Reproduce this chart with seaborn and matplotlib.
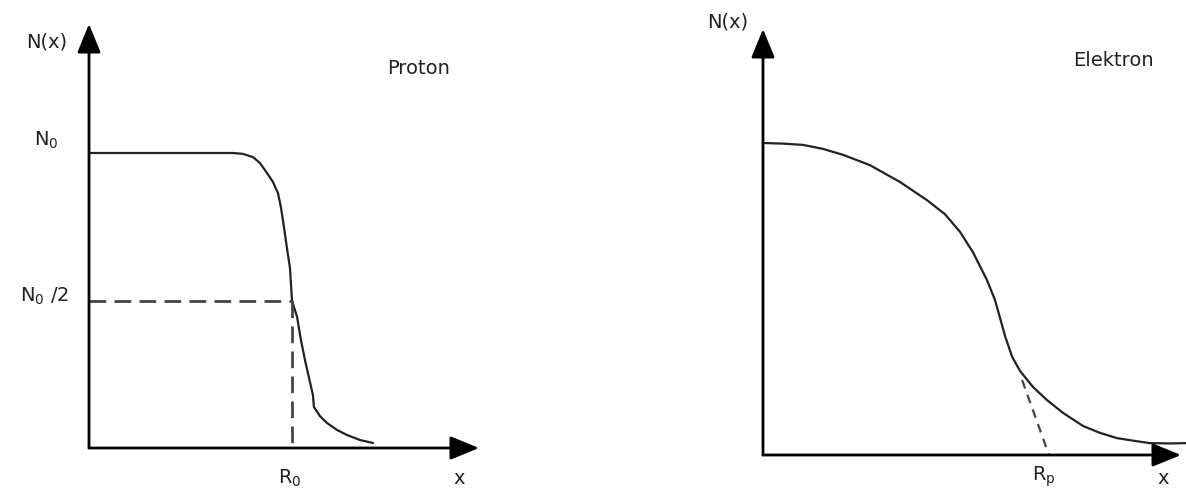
import numpy as np
import pandas as pd
import matplotlib
matplotlib.use("Agg")
import matplotlib.pyplot as plt
import seaborn as sns

# Proton: flat density N0 up to the edge, sharp fall-off around R0 (units: R0 = 1, N0 = 1)
proton_x = [0.0, 0.709, 0.759, 0.808, 0.842, 0.877, 0.906, 0.931, 0.946, 0.961, 0.975, 0.990, 1.0,
            1.025, 1.044, 1.064, 1.084, 1.103, 1.108, 1.138, 1.172, 1.222, 1.271, 1.335, 1.399]
proton_n = [1.0, 1.0, 0.997, 0.986, 0.966, 0.932, 0.902, 0.864, 0.814, 0.746, 0.678, 0.610, 0.5,
            0.444, 0.366, 0.298, 0.237, 0.180, 0.139, 0.108, 0.085, 0.061, 0.044, 0.027, 0.017]

# Electron: smooth bell-like decay with a long tail (units: Rp = 1, N0 = 1)
electron_x = [0.0, 0.070, 0.140, 0.210, 0.280, 0.374, 0.479, 0.573, 0.636, 0.689, 0.734, 0.783, 0.811,
              0.829, 0.846, 0.871, 0.899, 0.944, 0.993, 1.049, 1.119, 1.178, 1.238, 1.301, 1.353,
              1.423, 1.479]
electron_n = [1.0, 0.998, 0.994, 0.981, 0.962, 0.929, 0.875, 0.817, 0.772, 0.715, 0.650, 0.561, 0.497,
              0.439, 0.382, 0.315, 0.269, 0.218, 0.176, 0.135, 0.093, 0.071, 0.054, 0.045, 0.038,
              0.037, 0.038]

# Tangent at the inflection point extended down to the x axis at Rp
tangent_x = [0.906, 1.0]
tangent_n = [0.240, 0.0]

sns.set_style("white")
plt.rcParams["font.family"] = ["DejaVu Sans"]
plt.rcParams["mathtext.fontset"] = "dejavusans"

W, H = 1186, 494
fig = plt.figure(figsize=(W / 100, H / 100), dpi=100)

# axes boxes in figure fractions, with limits chosen so the origin sits where the axis arrows start
axL = fig.add_axes([0, 0, 593 / W, 1])
axR = fig.add_axes([593 / W, 0, 593 / W, 1])
axL.set_xlim((0 - 89) / 203, (593 - 89) / 203)
axL.set_ylim((448 - 494) / 295, 448 / 295)
axR.set_xlim((593 - 763) / 286, (1186 - 763) / 286)
axR.set_ylim((455 - 494) / 312, 455 / 312)

for ax in (axL, axR):
    ax.set_axis_off()

curve_kw = dict(color="#222222", linewidth=1.6, sort=False, estimator=None)
sns.lineplot(data=pd.DataFrame({"x": proton_x, "N": proton_n}), x="x", y="N", ax=axL, **curve_kw)
sns.lineplot(data=pd.DataFrame({"x": electron_x, "N": electron_n}), x="x", y="N", ax=axR, **curve_kw)

dash_kw = dict(color="#444444", linewidth=2.0, linestyle=(0, (6, 3)))
axL.plot([0, 1.0], [0.5, 0.5], **dash_kw)
axL.plot([1.0, 1.0], [0.5, 0.0], **dash_kw)
axR.plot(tangent_x, tangent_n, color="#444444", linewidth=1.6, linestyle=(0, (4, 3)))

arrow_kw = dict(arrowstyle="-|>,head_length=1.1,head_width=0.45", color="black", lw=2.0,
                mutation_scale=16, shrinkA=0, shrinkB=0)
# coordinate axes with arrowheads
axL.annotate("", xy=(0, (448 - 24) / 295), xytext=(0, 0), arrowprops=arrow_kw)
axL.annotate("", xy=((479 - 89) / 203, 0), xytext=(0, 0), arrowprops=arrow_kw)
axR.annotate("", xy=(0, (455 - 29) / 312), xytext=(0, 0), arrowprops=arrow_kw)
axR.annotate("", xy=((1181 - 763) / 286, 0), xytext=(0, 0), arrowprops=arrow_kw)

txt = dict(fontsize=14, color="#222222", ha="center", va="center")
axL.text(-0.207, 1.376, "N(x)", **txt)
axL.text(1.621, 1.285, "Proton", **txt)
axL.text(-0.212, 1.044, r"N$_0$", **txt)
axL.text(-0.222, 0.515, r"N$_0$ /2", **txt)
axL.text(0.99, -0.102, r"R$_0$", **txt)
axL.text(1.823, -0.102, "x", **txt)

axR.text(-0.122, 1.388, "N(x)", **txt)
axR.text(1.224, 1.263, "Elektron", **txt)
axR.text(0.983, -0.071, r"R$_\mathrm{p}$", **txt)
axR.text(1.399, -0.074, "x", **txt)

fig.savefig("out.png", dpi=100, facecolor="white")
